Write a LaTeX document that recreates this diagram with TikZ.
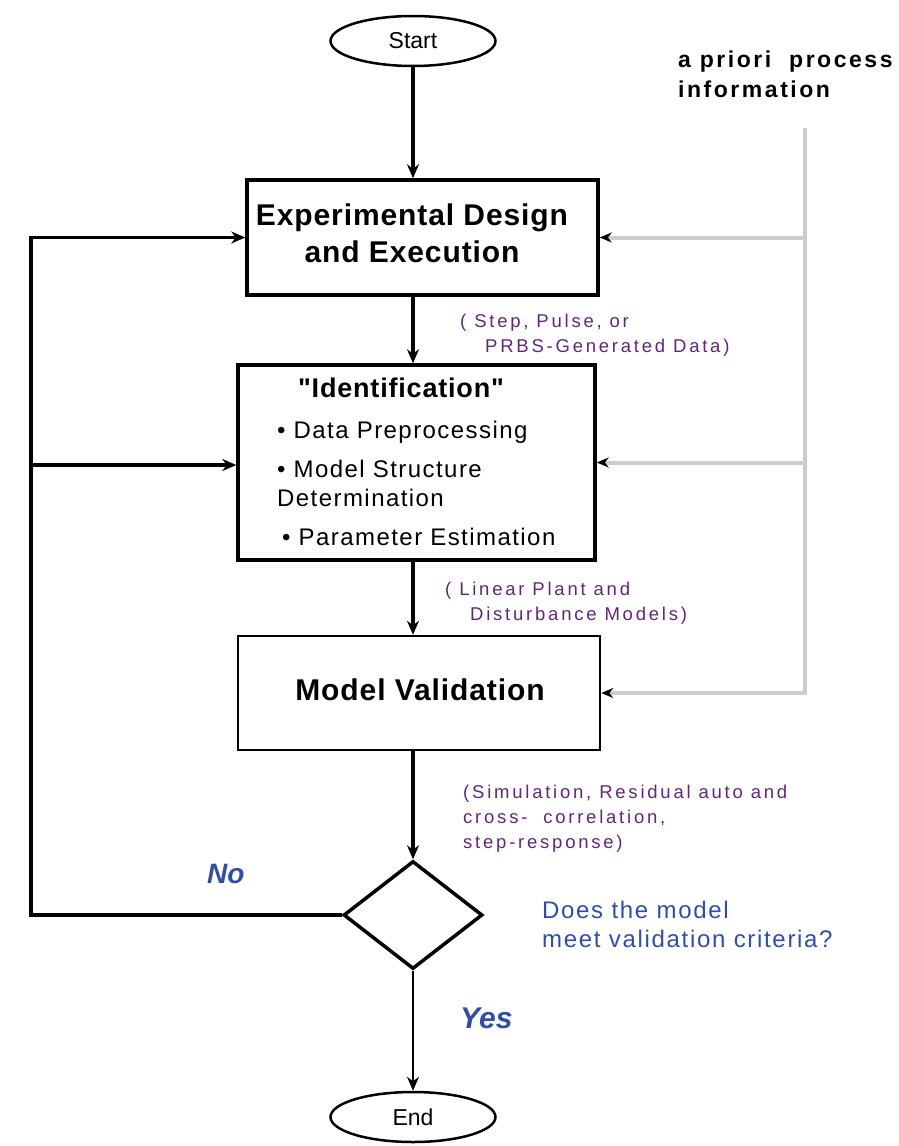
\documentclass[tikz,border=0pt]{standalone}
\usepackage{fontspec}
\setmainfont{Liberation Sans}
\usetikzlibrary{arrows.meta,shapes.geometric,calc}
\newfontfamily\boxfont[LetterSpace=3]{Liberation Sans}
\newfontfamily\itemfont[LetterSpace=6]{Liberation Sans}
\newfontfamily\notefont[LetterSpace=15]{Liberation Sans}
\newfontfamily\askfont[LetterSpace=7]{Liberation Sans}
\newfontfamily\priorfont[LetterSpace=11]{Liberation Sans}
\definecolor{notepurple}{RGB}{98,38,118}
\definecolor{askblue}{RGB}{48,78,168}
\definecolor{priorgray}{RGB}{205,205,205}
\tikzset{
  terminal/.style={ellipse,draw=black,line width=2.5pt,inner sep=0pt,
    minimum width=165pt,minimum height=50pt,font=\fontsize{23}{27}\selectfont},
  stage/.style={rectangle,draw=black,line width=3.5pt,inner sep=0pt},
  decision/.style={diamond,draw=black,line width=3.5pt,inner sep=0pt,
    minimum width=139pt,minimum height=108pt},
  flow/.style={-{Stealth[length=14pt,width=12pt]},line width=3.5pt},
  priorline/.style={-{Stealth[length=12pt,width=10pt,color=black]},line width=4pt,priorgray},
  boxtext/.style={font=\boxfont\bfseries\fontsize{30}{37}\selectfont,inner sep=0pt,anchor=base},
  itemtext/.style={font=\itemfont\fontsize{24}{28}\selectfont,inner sep=0pt,anchor=base west},
  notetext/.style={font=\notefont\fontsize{18.5}{25}\selectfont,text=notepurple,
    align=left,inner sep=0pt,anchor=base west},
  asktext/.style={font=\askfont\fontsize{24}{29}\selectfont,text=askblue,
    align=left,inner sep=0pt,anchor=base west},
  answer/.style={font=\bfseries\itshape,text=askblue,inner sep=0pt,anchor=base west}
}
\begin{document}
\begin{tikzpicture}[x=1pt,y=-1pt]
  \useasboundingbox (0,0) rectangle (898,1146);

  \node[terminal] (start) at (413,41) {Start};
  \node[stage,minimum width=351pt,minimum height=115pt] (design) at (422.5,237.5) {};
  \node[stage,minimum width=357pt,minimum height=195pt] (ident) at (416.5,462.5) {};
  \node[stage,line width=2.5pt,minimum width=362pt,minimum height=114pt] (valid) at (419,693) {};
  \node[decision] (check) at (413,915) {};
  \node[terminal] (finish) at (413,1117) {End};

  \node[boxtext,align=center] (designtxt) at (412,262) {Experimental Design\\and Execution};
  \node[boxtext,font=\boxfont\bfseries\fontsize{27}{30}\selectfont] (identtxt) at (401,397) {"Identification"};
  \node[itemtext] (item1) at (277,438) {\textbullet\ Data Preprocessing};
  \node[itemtext] (item2) at (277,477) {\textbullet\ Model Structure};
  \node[itemtext] (item2b) at (277,506) {Determination};
  \node[itemtext] (item3) at (282,545) {\textbullet\ Parameter Estimation};
  \node[boxtext] (validtxt) at (420,700) {Model Validation};

  \node[notetext] (note1) at (460,352) {( Step, Pulse, or\\\hspace*{25pt}PRBS-Generated Data)};
  \node[notetext] (note2) at (445,620) {( Linear Plant and\\\hspace*{25pt}Disturbance Models)};
  \node[notetext] (note3) at (463,848) {(Simulation, Residual auto and\\cross-~ correlation,\\step-response)};
  \node[asktext] (question) at (542,947) {Does the model\\meet validation criteria?};
  \node[answer,font=\bfseries\itshape\fontsize{28}{30}\selectfont] (no) at (207,883) {No};
  \node[answer,font=\bfseries\itshape\fontsize{30}{32}\selectfont] (yes) at (460,1028) {Yes};
  \node[font=\priorfont\bfseries\fontsize{23}{30}\selectfont,align=left,inner sep=0pt,
    anchor=base west] (prior) at (678,97) {a priori\ \ process\\information};

  \draw[flow] (start) -- (start |- design.north);
  \draw[flow] (design.south -| start) -- (ident.north -| start);
  \draw[flow] (ident.south -| start) -- (valid.north -| start);
  \draw[flow] (valid.south -| start) -- (check.north);
  \draw[flow,line width=2pt] (check.south) -- (finish.north);

  % loop back when the check fails
  \coordinate (loopcorner) at (31,915);
  \coordinate (loopjoin) at (31,465);
  \draw[flow] (check.west) -- (loopcorner) |- (design.west);
  \draw[flow] (loopjoin) -- (loopjoin -| ident.west);

  % prior information feeding the stages
  \coordinate (priortop) at (805,128);
  \coordinate (priorbot) at (805,695);
  \draw[priorline,-] (priortop) -- (priorbot);
  \draw[priorline] (priortop |- design.east) -- (design.east);
  \draw[priorline] (priortop |- ident.east) -- (ident.east);
  \draw[priorline] (priortop |- valid.east) -- (valid.east);
\end{tikzpicture}
\end{document}
